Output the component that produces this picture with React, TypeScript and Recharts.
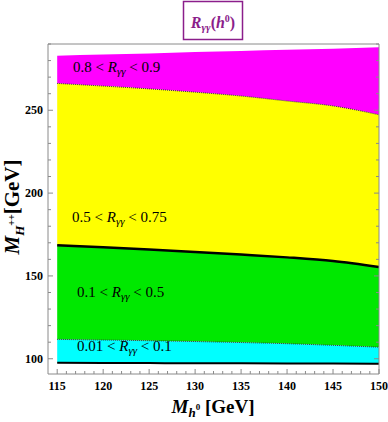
import { Area, ComposedChart, Line, XAxis, YAxis } from 'recharts'

// boundary curves of the R_γγ(h0) regions
const massH0 = [115, 120, 125, 130, 135, 140, 145, 150]
const upperEdge = [282.9, 283.6, 284.3, 285.1, 285.8, 286.5, 287.2, 288.0]
const magentaYellow = [266.2, 264.6, 262.9, 260.9, 258.6, 255.6, 252.6, 247.3]
const yellowGreen = [168.5, 167.3, 166.0, 164.5, 162.9, 161.2, 159.0, 155.4]
const greenCyan = [111.7, 111.3, 110.9, 110.4, 109.8, 109.1, 108.1, 107.0]
const lowerEdge = [97.6, 97.5, 97.4, 97.3, 97.3, 97.2, 97.1, 97.0]

const xTicks = Array.from({ length: 36 }, (_, i) => 115 + i)
const yTicks = [100, 110, 120, 130, 140, 150, 160, 170, 180, 190, 200, 210, 220, 230, 240, 250, 260, 270, 280, 290]

const rows = massH0.map((m, i) => ({
  m,
  magenta: [magentaYellow[i], upperEdge[i]],
  yellow: [yellowGreen[i], magentaYellow[i]],
  green: [greenCyan[i], yellowGreen[i]],
  cyan: [lowerEdge[i], greenCyan[i]],
  my: magentaYellow[i],
  yg: yellowGreen[i],
  gc: greenCyan[i],
  low: lowerEdge[i],
}))

const frame = '#8a8a8a'
const serif = '"Liberation Serif", "DejaVu Serif", serif'
const purple = '#8b1e8b'

const BottomTick = ({ x, y, payload }: any) => {
  const major = payload.value % 5 === 0
  return (
    <g>
      <line x1={x} y1={y} x2={x} y2={y - (major ? 5 : 3)} stroke={frame} />
      {major && (
        <text x={x} y={y + 16} textAnchor="middle" fontFamily={serif} fontWeight="bold" fontSize={12} fill="#000">
          {payload.value}
        </text>
      )}
    </g>
  )
}

const TopTick = ({ x, y, payload }: any) => {
  const major = payload.value % 5 === 0
  return <line x1={x} y1={y} x2={x} y2={y + (major ? 5 : 3)} stroke={frame} />
}

const LeftTick = ({ x, y, payload }: any) => {
  const major = payload.value % 50 === 0
  return (
    <g>
      <line x1={x} y1={y} x2={x + (major ? 5 : 3)} y2={y} stroke={frame} />
      {major && (
        <text x={x - 5} y={y + 4} textAnchor="end" fontFamily={serif} fontWeight="bold" fontSize={12} fill="#000">
          {payload.value}
        </text>
      )}
    </g>
  )
}

const RightTick = ({ x, y, payload }: any) => {
  const major = payload.value % 50 === 0
  return <line x1={x} y1={y} x2={x - (major ? 5 : 3)} y2={y} stroke={frame} />
}

function BandLabel({ x, y, lo, hi }: { x: number; y: number; lo: string; hi: string }) {
  return (
    <text x={x} y={y} fontFamily={serif} fontSize={15} fill="#000">
      <tspan>{lo} &lt; </tspan>
      <tspan fontStyle="italic">R</tspan>
      <tspan fontStyle="italic" fontSize={11} dy={3}>γγ</tspan>
      <tspan dy={-3}> &lt; {hi}</tspan>
    </text>
  )
}

export default function App() {
  return (
    <div style={{ position: 'absolute', left: 0, top: 0, width: 388, height: 422, background: '#fff' }}>
      <ComposedChart width={388} height={422} data={rows} margin={{ top: 43, right: 8, bottom: 47, left: 47 }}>
        <XAxis
          dataKey="m"
          type="number"
          domain={[114, 150]}
          allowDataOverflow
          ticks={xTicks}
          interval={0}
          height={1}
          tickSize={0}
          tickMargin={0}
          tickLine={false}
          tick={<BottomTick />}
          axisLine={{ stroke: frame }}
        />
        <XAxis
          xAxisId="top"
          orientation="top"
          type="number"
          domain={[114, 150]}
          allowDataOverflow
          ticks={xTicks}
          interval={0}
          height={1}
          tickSize={0}
          tickMargin={0}
          tickLine={false}
          tick={<TopTick />}
          axisLine={{ stroke: frame }}
        />
        <YAxis
          type="number"
          domain={[90.8, 290]}
          allowDataOverflow
          ticks={yTicks}
          interval={0}
          width={1}
          tickSize={0}
          tickMargin={0}
          tickLine={false}
          tick={<LeftTick />}
          axisLine={{ stroke: frame }}
        />
        <YAxis
          yAxisId="right"
          orientation="right"
          type="number"
          domain={[90.8, 290]}
          allowDataOverflow
          ticks={yTicks}
          interval={0}
          width={1}
          tickSize={0}
          tickMargin={0}
          tickLine={false}
          tick={<RightTick />}
          axisLine={{ stroke: frame }}
        />
        <Area dataKey="magenta" type="monotone" fill="#ff00ff" fillOpacity={1} stroke="none" isAnimationActive={false} />
        <Area dataKey="yellow" type="monotone" fill="#ffff00" fillOpacity={1} stroke="none" isAnimationActive={false} />
        <Area dataKey="green" type="monotone" fill="#00e800" fillOpacity={1} stroke="none" isAnimationActive={false} />
        <Area dataKey="cyan" type="monotone" fill="#00ffff" fillOpacity={1} stroke="none" isAnimationActive={false} />
        <Line dataKey="my" type="monotone" stroke="#333" strokeWidth={1} strokeDasharray="1 1" dot={false} isAnimationActive={false} />
        <Line dataKey="gc" type="monotone" stroke="#333" strokeWidth={1} strokeDasharray="1 1" dot={false} isAnimationActive={false} />
        <Line dataKey="yg" type="monotone" stroke="#000" strokeWidth={2.5} dot={false} isAnimationActive={false} />
        <Line dataKey="low" type="monotone" stroke="#000" strokeWidth={2} dot={false} isAnimationActive={false} />
      </ComposedChart>
      <svg width={388} height={422} style={{ position: 'absolute', left: 0, top: 0, pointerEvents: 'none' }}>
        <rect x={183.5} y={1.5} width={59} height={38} fill="#fff" stroke={purple} strokeWidth={1.5} />
        <text x={213} y={28} textAnchor="middle" fontFamily={serif} fontWeight="bold" fontSize={16} fill={purple}>
          <tspan fontStyle="italic">R</tspan>
          <tspan fontStyle="italic" fontSize={11} dy={3}>γγ</tspan>
          <tspan dy={-3}>(</tspan>
          <tspan fontStyle="italic">h</tspan>
          <tspan fontSize={10} dy={-6}>0</tspan>
          <tspan dy={6}>)</tspan>
        </text>
        <BandLabel x={73} y={72} lo="0.8" hi="0.9" />
        <BandLabel x={72} y={222} lo="0.5" hi="0.75" />
        <BandLabel x={77} y={297} lo="0.1" hi="0.5" />
        <BandLabel x={77} y={351} lo="0.01" hi="0.1" />
        <text x={213} y={413} textAnchor="middle" fontFamily={serif} fontWeight="bold" fontSize={19} fill="#000">
          <tspan fontStyle="italic">M</tspan>
          <tspan fontStyle="italic" fontSize={13} dy={4}>h</tspan>
          <tspan fontSize={9} dy={-7}>0</tspan>
          <tspan dy={3}> [GeV]</tspan>
        </text>
        <text
          transform="translate(19 207) rotate(-90)"
          textAnchor="middle"
          fontFamily={serif}
          fontWeight="bold"
          fontSize={21}
          fill="#000"
        >
          <tspan fontStyle="italic">M</tspan>
          <tspan fontStyle="italic" fontSize={13} dy={5}>H</tspan>
          <tspan fontSize={10} dy={-9}>++</tspan>
          <tspan dy={4}>[GeV]</tspan>
        </text>
      </svg>
    </div>
  )
}
